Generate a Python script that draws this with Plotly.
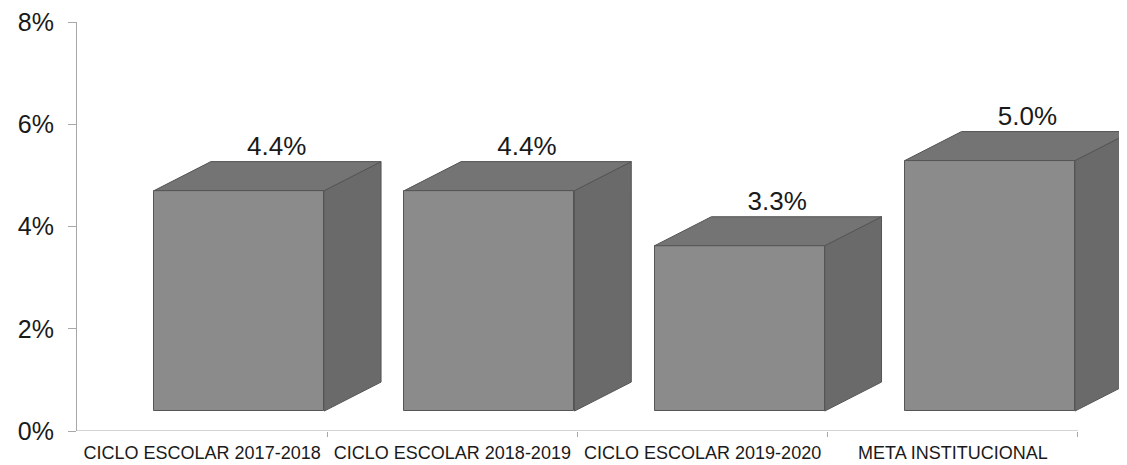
import plotly.graph_objects as go

categories = ["CICLO ESCOLAR 2017-2018", "CICLO ESCOLAR 2018-2019",
              "CICLO ESCOLAR 2019-2020", "META INSTITUCIONAL"]
values = [4.4, 4.4, 3.3, 5.0]
labels = ["4.4%", "4.4%", "3.3%", "5.0%"]
ytick_vals = [0, 2, 4, 6, 8]
ytick_text = ["0%", "2%", "4%", "6%", "8%"]

# pseudo-3D geometry (style parameters)
BASE = 0.39      # floor offset of the front face
SCALE = 0.98     # front-face height per unit value
OFFSET = 0.148   # front face centre offset from category centre
WIDTH = 0.68     # front face width (category units)
DX = 0.227       # depth offset in x (category units)
DY = 0.567       # depth offset in y (axis units)

FRONT = "#8b8b8b"
TOP = "#747474"
SIDE = "#6a6a6a"
EDGE = "#555555"
FONT = "Liberation Sans, Arial, sans-serif"

xs = list(range(len(categories)))
fig = go.Figure()

# front faces
fig.add_trace(go.Bar(
    x=[x + OFFSET for x in xs], y=[v * SCALE for v in values], base=BASE,
    width=WIDTH, marker=dict(color=FRONT, line=dict(color=EDGE, width=1)),
    hoverinfo="skip", showlegend=False))

for x, v in zip(xs, values):
    left = x + OFFSET - WIDTH / 2
    right = x + OFFSET + WIDTH / 2
    top = BASE + v * SCALE
    # side face
    fig.add_trace(go.Scatter(
        x=[right, right + DX, right + DX, right, right],
        y=[BASE, BASE + DY, top + DY, top, BASE],
        fill="toself", fillcolor=SIDE, mode="lines",
        line=dict(color=EDGE, width=1), hoverinfo="skip", showlegend=False))
    # top face
    fig.add_trace(go.Scatter(
        x=[left, left + DX, right + DX, right, left],
        y=[top, top + DY, top + DY, top, top],
        fill="toself", fillcolor=TOP, mode="lines",
        line=dict(color=EDGE, width=1), hoverinfo="skip", showlegend=False))

# value labels
fig.add_trace(go.Scatter(
    x=[x + OFFSET + 0.15 for x in xs],
    y=[BASE + v * SCALE + DY for v in values],
    text=labels, mode="text", textposition="top center",
    textfont=dict(family=FONT, size=26, color="#1a1a1a"),
    hoverinfo="skip", showlegend=False, cliponaxis=False))

# category tick marks on overlay axis
fig.add_trace(go.Scatter(x=[xs[0] - 0.5], y=[0], mode="markers",
                         marker=dict(opacity=0), xaxis="x2",
                         hoverinfo="skip", showlegend=False))

n = len(categories)
fig.add_shape(type="line", xref="x", yref="y", x0=-0.5, x1=n - 0.5, y0=0, y1=0,
              line=dict(color="#a8a8a8", width=1))

fig.update_layout(
    width=1119, height=457,
    margin=dict(l=69, r=0, t=14, b=34),
    paper_bgcolor="white", plot_bgcolor="white",
    bargap=0,
    xaxis=dict(range=[-0.5, 3.696], tickvals=xs, ticktext=categories,
               showgrid=False, zeroline=False, showline=False, ticks="",
               ticklabelstandoff=9,
               tickfont=dict(family=FONT, size=18, color="#1a1a1a")),
    xaxis2=dict(range=[-0.5, 3.696], overlaying="x", anchor="y",
                tickvals=[x + 0.5 for x in xs], ticks="outside", ticklen=5,
                tickcolor="#a8a8a8", showticklabels=False, showgrid=False,
                zeroline=False, showline=False, side="bottom"),
    yaxis=dict(range=[0, 8], tickvals=ytick_vals, ticktext=ytick_text,
               showgrid=False, zeroline=False, showline=True,
               linecolor="#a8a8a8", linewidth=1, ticks="outside", ticklen=8,
               tickcolor="#a8a8a8", ticklabelstandoff=9,
               ticklabeloverflow="allow",
               tickfont=dict(family=FONT, size=25, color="#1a1a1a")),
    font=dict(family=FONT),
)

fig.write_html("out.html")
